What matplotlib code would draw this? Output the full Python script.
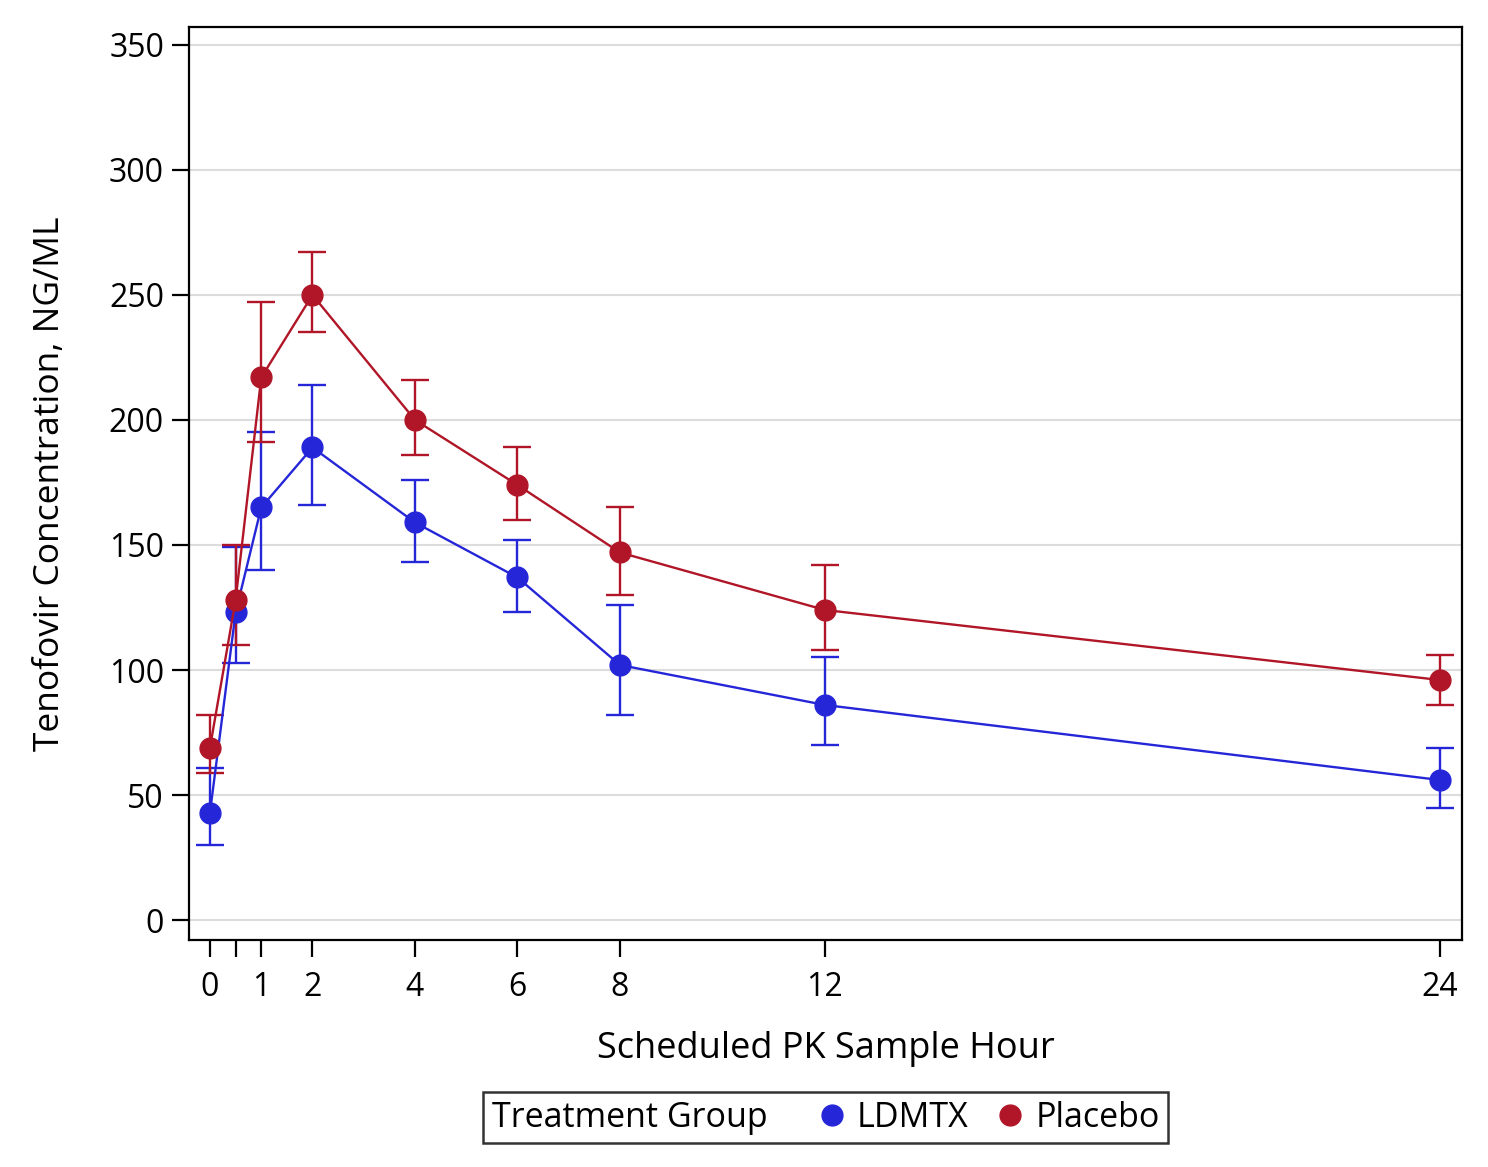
import matplotlib
matplotlib.use("Agg")
import matplotlib.pyplot as plt
from matplotlib.lines import Line2D
from matplotlib.offsetbox import DrawingArea, HPacker

plt.rcParams['font.family'] = ['Open Sans', 'DejaVu Sans']

hours = [0, 0.5, 1, 2, 4, 6, 8, 12, 24]
ldmtx_mean = [43, 123, 165, 189, 159, 137, 102, 86, 56]
ldmtx_low = [30, 103, 140, 166, 143, 123, 82, 70, 45]
ldmtx_high = [61, 149, 195, 214, 176, 152, 126, 105, 69]
placebo_mean = [69, 128, 217, 250, 200, 174, 147, 124, 96]
placebo_low = [59, 110, 191, 235, 186, 160, 130, 108, 86]
placebo_high = [82, 150, 247, 267, 216, 189, 165, 142, 106]

xticks = [0, 0.5, 1, 2, 4, 6, 8, 12, 24]
xticklabels = ['0', '', '1', '2', '4', '6', '8', '12', '24']
yticks = [0, 50, 100, 150, 200, 250, 300, 350]

blue = '#2626D9'
red = '#B01627'

fig = plt.figure(figsize=(14.88, 11.67), dpi=100)
ax = fig.add_axes([0.127, 0.1945, 0.8555, 0.7824])

for mean, lo, hi, col in [(ldmtx_mean, ldmtx_low, ldmtx_high, blue),
                          (placebo_mean, placebo_low, placebo_high, red)]:
    yerr = [[m - l for m, l in zip(mean, lo)], [h - m for m, h in zip(mean, hi)]]
    ax.errorbar(hours, mean, yerr=yerr, color=col, marker='o', markersize=15,
                linewidth=1.7, elinewidth=1.7, capsize=10, capthick=1.7, zorder=3)

ax.set_xlim(-0.41, 24.43)
ax.set_ylim(-8, 357.2)
ax.set_xticks(xticks)
ax.set_xticklabels(xticklabels)
ax.set_yticks(yticks)
ax.yaxis.grid(True, color='#dcdcdc', linewidth=1.5, zorder=0)
ax.set_axisbelow(True)
for s in ax.spines.values():
    s.set_linewidth(1.6)
ax.tick_params(axis='both', labelsize=23, length=12, width=1.6, pad=6)
ax.tick_params(axis='x', pad=10)

ax.set_xlabel('Scheduled PK Sample Hour', fontsize=26, labelpad=20)
ax.set_ylabel('Tenofovir Concentration, NG/ML', fontsize=25.5, labelpad=30)

handles = [Line2D([], [], color=blue, marker='o', linestyle='none', markersize=15),
           Line2D([], [], color=red, marker='o', linestyle='none', markersize=15)]
leg = fig.legend(handles, ['LDMTX', 'Placebo'], title='Treatment Group', ncol=2,
                 loc='center', bbox_to_anchor=(0.5548, 0.042), fontsize=24.5,
                 title_fontsize=24.5, frameon=True, fancybox=False, edgecolor='black',
                 handlelength=0.6, handletextpad=0.45, columnspacing=0.8,
                 borderpad=0.25, borderaxespad=0)
leg.get_frame().set_linewidth(1.8)
c = leg.get_children()[0]
title = c.get_children()[0]
hpack = c.get_children()[1]
c._children = [hpack]
title_box = HPacker(children=[title, DrawingArea(17, 0)], sep=0, pad=0, align='baseline')
hpack._children = [title_box] + hpack.get_children()
hpack.sep = 22

fig.savefig('out.png', dpi=100)
